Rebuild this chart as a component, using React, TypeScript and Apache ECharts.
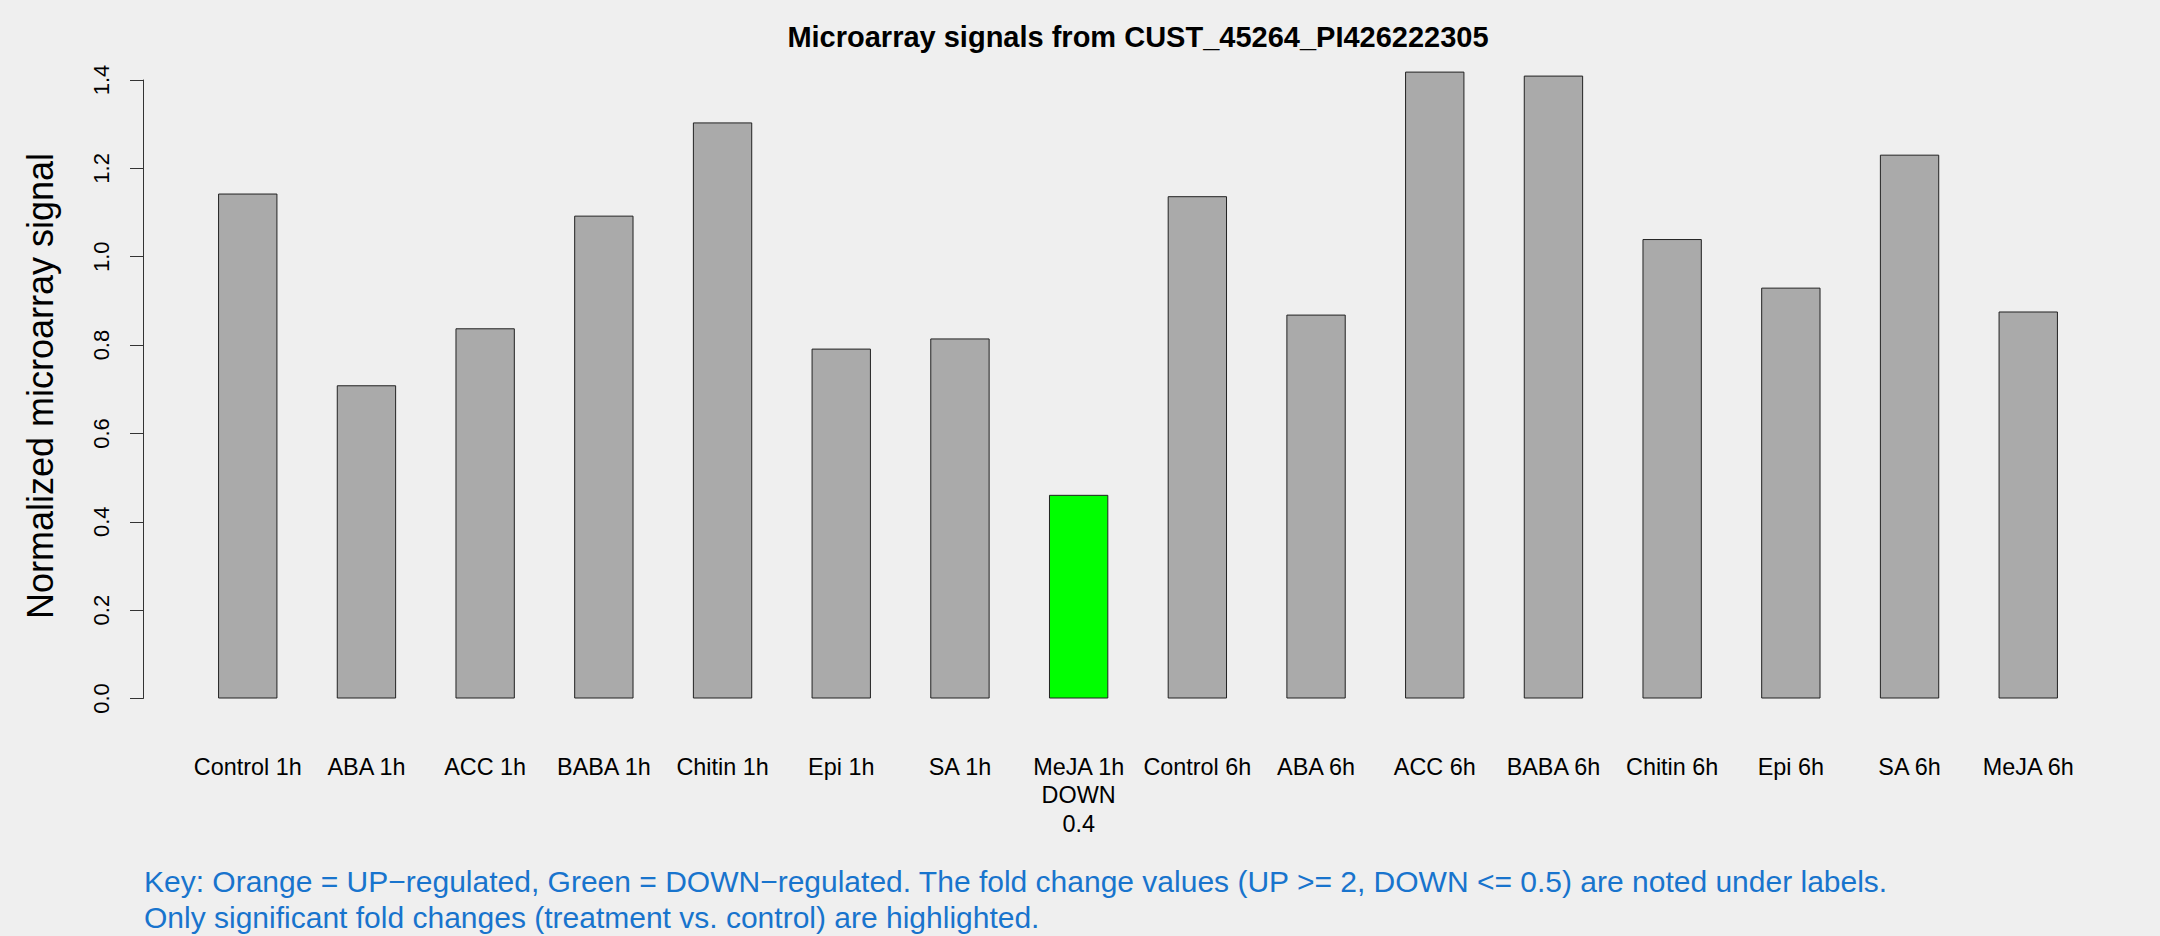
import React, { useEffect, useRef } from "react";
import * as echarts from "echarts";

const categories = [
  "Control 1h", "ABA 1h", "ACC 1h", "BABA 1h", "Chitin 1h", "Epi 1h", "SA 1h", "MeJA 1h",
  "Control 6h", "ABA 6h", "ACC 6h", "BABA 6h", "Chitin 6h", "Epi 6h", "SA 6h", "MeJA 6h",
];
const signals = [
  1.143, 0.709, 0.838, 1.093, 1.304, 0.792, 0.815, 0.461,
  1.137, 0.869, 1.419, 1.410, 1.040, 0.930, 1.231, 0.876,
];
const regulation = ["", "", "", "", "", "", "", "DOWN", "", "", "", "", "", "", "", ""];
const foldChanges: (number | null)[] = [null, null, null, null, null, null, null, 0.4, null, null, null, null, null, null, null, null];

const yMin = 0;
const yMax = 1.4;
const yStep = 0.2;

const titleText = "Microarray signals from CUST_45264_PI426222305";
const yTitle = "Normalized microarray signal";
const keyLine1 = "Key: Orange = UP\u2212regulated, Green = DOWN\u2212regulated. The fold change values (UP >= 2, DOWN <= 0.5) are noted under labels.";
const keyLine2 = "Only significant fold changes (treatment vs. control) are highlighted.";

const FONT = "'Liberation Sans', Arial, Helvetica, sans-serif";

export default function App() {
  const ref = useRef<HTMLDivElement>(null);
  useEffect(() => {
    if (!ref.current) return;
    const chart = echarts.init(ref.current, null, { renderer: "svg" });
    const labels = categories.map((c, i) => {
      const parts = [c];
      if (regulation[i]) parts.push(regulation[i]);
      if (foldChanges[i] !== null) parts.push(String(foldChanges[i]));
      return parts.join("\n");
    });
    const colorFor = (r: string) => (r === "DOWN" ? "#00ff00" : r === "UP" ? "#ffa500" : "#aaaaaa");
    chart.setOption({
      animation: false,
      backgroundColor: "#efefef",
      textStyle: { fontFamily: FONT },
      grid: { left: 188.4, right: 72.4, top: 80, bottom: 237.5, containLabel: false },
      xAxis: {
        type: "category",
        data: labels,
        axisLine: { show: false },
        axisTick: { show: false },
        axisLabel: {
          interval: 0,
          color: "#000",
          fontSize: 23.4,
          lineHeight: 28.5,
          margin: 54,
          fontFamily: FONT,
        },
      },
      yAxis: {
        type: "value",
        min: yMin,
        max: yMax,
        interval: yStep,
        offset: 45.4,
        splitLine: { show: false },
        axisLine: { show: true, lineStyle: { color: "#333", width: 1 } },
        axisTick: { show: true, length: 13, lineStyle: { color: "#333", width: 1 } },
        axisLabel: {
          rotate: 90,
          margin: 31,
          color: "#000",
          fontSize: 22,
          fontFamily: FONT,
          formatter: (v: number) => v.toFixed(1),
        },
      },
      series: [
        {
          type: "bar",
          barWidth: "50%",
          clip: false,
          data: signals.map((v, i) => ({
            value: v,
            itemStyle: { color: colorFor(regulation[i]) },
          })),
          itemStyle: { borderColor: "#222", borderWidth: 1 },
        },
      ],
      graphic: [
        {
          type: "text",
          x: 1138,
          y: 37,
          style: {
            text: titleText,
            font: `bold 29px ${FONT}`,
            fill: "#000",
            textAlign: "center",
            textVerticalAlign: "middle",
          },
        },
        {
          type: "text",
          x: 40,
          y: 386,
          rotation: Math.PI / 2,
          style: {
            text: yTitle,
            font: `36px ${FONT}`,
            fill: "#000",
            textAlign: "center",
            textVerticalAlign: "middle",
          },
        },
        {
          type: "text",
          x: 144,
          y: 881,
          style: {
            text: keyLine1,
            font: `30px ${FONT}`,
            fill: "#1874cd",
            textAlign: "left",
            textVerticalAlign: "middle",
          },
        },
        {
          type: "text",
          x: 144,
          y: 917,
          style: {
            text: keyLine2,
            font: `30px ${FONT}`,
            fill: "#1874cd",
            textAlign: "left",
            textVerticalAlign: "middle",
          },
        },
      ],
    });
    return () => chart.dispose();
  }, []);
  return (
    <div
      ref={ref}
      style={{ position: "fixed", left: 0, top: 0, width: 2160, height: 936 }}
    />
  );
}
